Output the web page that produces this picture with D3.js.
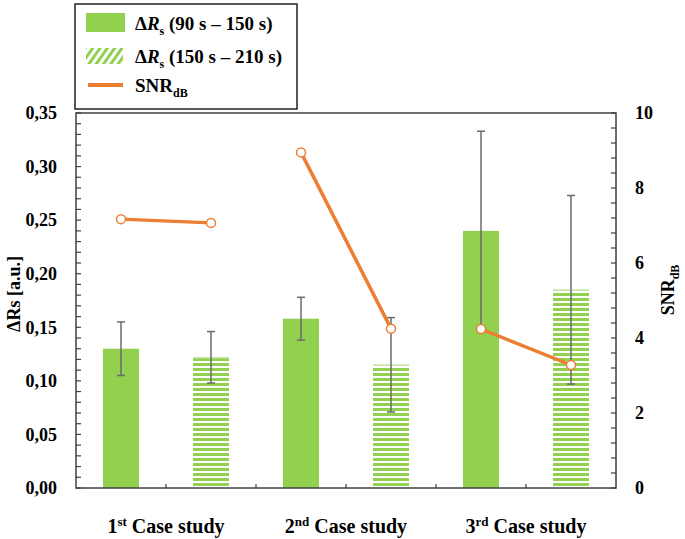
<!DOCTYPE html>
<html>
<head>
<meta charset="utf-8">
<script src="https://cdn.jsdelivr.net/npm/d3@7"></script>
<style>
  html, body { margin: 0; padding: 0; background: #fff; }
  svg { display: block; font-family: "Liberation Serif", "Times New Roman", serif; font-weight: bold; }
</style>
</head>
<body>
<svg id="chart" width="685" height="539"></svg>
<script>
// ---- data ----
const caseNumbers = ["1", "2", "3"];
const caseSuffixes = ["st", "nd", "rd"];
const caseText = "Case study";
const periods = ["90 s – 150 s", "150 s – 210 s"];
const deltaRs90 = [0.130, 0.158, 0.240];
const deltaRs150 = [0.122, 0.115, 0.185];
const err90 = [0.025, 0.020, 0.093];
const err150 = [0.024, 0.044, 0.088];
const snr90 = [7.17, 8.95, 4.24];
const snr150 = [7.07, 4.25, 3.28];
const leftTicks = [0, 0.05, 0.10, 0.15, 0.20, 0.25, 0.30, 0.35];
const rightTicks = [0, 2, 4, 6, 8, 10];

// ---- layout ----
const plot = { left: 76, right: 616, top: 113, bottom: 488 };
const green = "#92D050", orange = "#ED7D31", frame = "#404040", errColor = "#6b6b6b";
const tickSize = 18, titleSize = 18, legendSize = 19, catSize = 20, subSize = 12;

const svg = d3.select("#chart");
const defs = svg.append("defs");
const hp = defs.append("pattern").attr("id", "hstripes").attr("patternUnits", "userSpaceOnUse")
  .attr("width", 10).attr("height", 5).attr("y", plot.bottom);
hp.append("rect").attr("x", 0).attr("y", 0).attr("width", 10).attr("height", 3).attr("fill", green);
const dp = defs.append("pattern").attr("id", "dstripes").attr("patternUnits", "userSpaceOnUse")
  .attr("width", 6).attr("height", 6).attr("patternTransform", "rotate(35)");
dp.append("rect").attr("x", 0).attr("y", 0).attr("width", 3).attr("height", 6).attr("fill", green);

// flat records
const records = [];
caseNumbers.forEach((c, i) => {
  records.push({ key: i + "-0", caseIdx: i, period: 0, value: deltaRs90[i], err: err90[i], snr: snr90[i] });
  records.push({ key: i + "-1", caseIdx: i, period: 1, value: deltaRs150[i], err: err150[i], snr: snr150[i] });
});

const x = d3.scaleBand().domain(records.map(d => d.key))
  .range([plot.left, plot.right]).paddingInner(0.6).paddingOuter(0.3);
const yL = d3.scaleLinear().domain([0, 0.35]).range([plot.bottom, plot.top]);
const yR = d3.scaleLinear().domain([0, 10]).range([plot.bottom, plot.top]);
const cx = d => x(d.key) + x.bandwidth() / 2;

// bars
svg.append("g").selectAll("rect").data(records).join("rect")
  .attr("x", d => x(d.key)).attr("width", x.bandwidth())
  .attr("y", d => yL(d.value)).attr("height", d => yL(0) - yL(d.value))
  .attr("fill", d => d.period === 0 ? green : "url(#hstripes)");
svg.append("g").selectAll("line").data(records.filter(d => d.period === 1)).join("line")
  .attr("x1", d => x(d.key)).attr("x2", d => x(d.key) + x.bandwidth())
  .attr("y1", d => yL(d.value) + 0.5).attr("y2", d => yL(d.value) + 0.5)
  .attr("stroke", "#c8e6a8").attr("stroke-width", 1.5);

// error bars
const eg = svg.append("g").attr("stroke", errColor).attr("stroke-width", 1.5);
records.forEach(d => {
  const c = cx(d);
  eg.append("line").attr("x1", c).attr("x2", c).attr("y1", yL(d.value + d.err)).attr("y2", yL(d.value - d.err));
  eg.append("line").attr("x1", c - 4).attr("x2", c + 4).attr("y1", yL(d.value + d.err)).attr("y2", yL(d.value + d.err));
  eg.append("line").attr("x1", c - 4).attr("x2", c + 4).attr("y1", yL(d.value - d.err)).attr("y2", yL(d.value - d.err));
});

// SNR lines per case
const line = d3.line().x(d => cx(d)).y(d => yR(d.snr));
caseNumbers.forEach((c, i) => {
  const seg = records.filter(d => d.caseIdx === i);
  svg.append("path").datum(seg).attr("d", line).attr("fill", "none")
    .attr("stroke", orange).attr("stroke-width", 3.5);
});
svg.append("g").selectAll("circle").data(records).join("circle")
  .attr("cx", cx).attr("cy", d => yR(d.snr)).attr("r", 4.5)
  .attr("fill", "#fff").attr("stroke", orange).attr("stroke-width", 1.5);

// axes
const leftAxis = d3.axisLeft(yL).tickValues(leftTicks).tickSize(0).tickPadding(19)
  .tickFormat(d => d3.format(".2f")(d).replace(".", ","));
const gl = svg.append("g").attr("transform", `translate(${plot.left},0)`).call(leftAxis);
gl.select(".domain").remove();
gl.selectAll("text").attr("font-size", tickSize).attr("font-family", "Liberation Serif").attr("font-weight", "bold").attr("fill", "#000");

const rightAxis = d3.axisRight(yR).tickValues(rightTicks).tickSize(0).tickPadding(19);
const gr = svg.append("g").attr("transform", `translate(${plot.right},0)`).call(rightAxis);
gr.select(".domain").remove();
gr.selectAll("text").attr("font-size", tickSize).attr("font-family", "Liberation Serif").attr("font-weight", "bold").attr("fill", "#000");

// minor ticks (inward)
const minorL = d3.range(0, 0.3501, 0.01);
svg.append("g").selectAll("line").data(minorL).join("line")
  .attr("x1", plot.left).attr("x2", plot.left + 5)
  .attr("y1", d => yL(d)).attr("y2", d => yL(d))
  .attr("stroke", frame).attr("stroke-width", 1.2);
const minorR = d3.range(0, 10.001, 0.4);
svg.append("g").selectAll("line").data(minorR).join("line")
  .attr("x1", plot.right).attr("x2", plot.right - 5)
  .attr("y1", d => yR(d)).attr("y2", d => yR(d))
  .attr("stroke", frame).attr("stroke-width", 1.2);
const bounds = records.slice(0, -1).map(d => x(d.key) + x.bandwidth() + x.step() * x.paddingInner() / 2);
svg.append("g").selectAll("line").data(bounds).join("line")
  .attr("x1", d => d).attr("x2", d => d).attr("y1", plot.bottom).attr("y2", plot.bottom - 4)
  .attr("stroke", frame).attr("stroke-width", 1.2);

// frame
svg.append("rect").attr("x", plot.left).attr("y", plot.top)
  .attr("width", plot.right - plot.left).attr("height", plot.bottom - plot.top)
  .attr("fill", "none").attr("stroke", frame).attr("stroke-width", 1.5);

// category labels
caseNumbers.forEach((c, i) => {
  const mid = (cx(records[2 * i]) + cx(records[2 * i + 1])) / 2;
  const t = svg.append("text").attr("x", mid).attr("y", 533).attr("text-anchor", "middle")
    .attr("font-size", catSize);
  t.append("tspan").text(c);
  t.append("tspan").attr("font-size", subSize + 1).attr("dy", -7).text(caseSuffixes[i]);
  t.append("tspan").attr("dy", 7).text(" " + caseText);
});

// axis titles
const lt = svg.append("text").attr("transform", `translate(20,294) rotate(-90)`)
  .attr("text-anchor", "middle").attr("font-size", titleSize);
lt.append("tspan").text("ΔRs [a.u.]");
const rt = svg.append("text").attr("transform", `translate(674,290) rotate(-90)`)
  .attr("text-anchor", "middle").attr("font-size", titleSize);
rt.append("tspan").text("SNR");
rt.append("tspan").attr("font-size", subSize).attr("dy", 5).text("dB");

// legend
const lg = svg.append("g");
lg.append("rect").attr("x", 75).attr("y", 4).attr("width", 222).attr("height", 105)
  .attr("fill", "#fff").attr("stroke", "#222").attr("stroke-width", 1.5);
lg.append("rect").attr("x", 86).attr("y", 13).attr("width", 39).attr("height", 19).attr("fill", green);
lg.append("rect").attr("x", 86).attr("y", 48).attr("width", 37).attr("height", 16).attr("fill", "url(#dstripes)");
lg.append("line").attr("x1", 88).attr("x2", 123).attr("y1", 85).attr("y2", 85)
  .attr("stroke", orange).attr("stroke-width", 4);
periods.forEach((p, i) => {
  const t = lg.append("text").attr("x", 135).attr("y", 30 + i * 33).attr("font-size", legendSize);
  t.append("tspan").text("Δ");
  t.append("tspan").attr("font-style", "italic").text("R");
  t.append("tspan").attr("font-size", subSize).attr("dy", 5).text("s");
  t.append("tspan").attr("dy", -5).text(" (" + p + ")");
});
const st = lg.append("text").attr("x", 135).attr("y", 92).attr("font-size", legendSize);
st.append("tspan").text("SNR");
st.append("tspan").attr("font-size", subSize).attr("dy", 5).text("dB");
</script>
</body>
</html>
